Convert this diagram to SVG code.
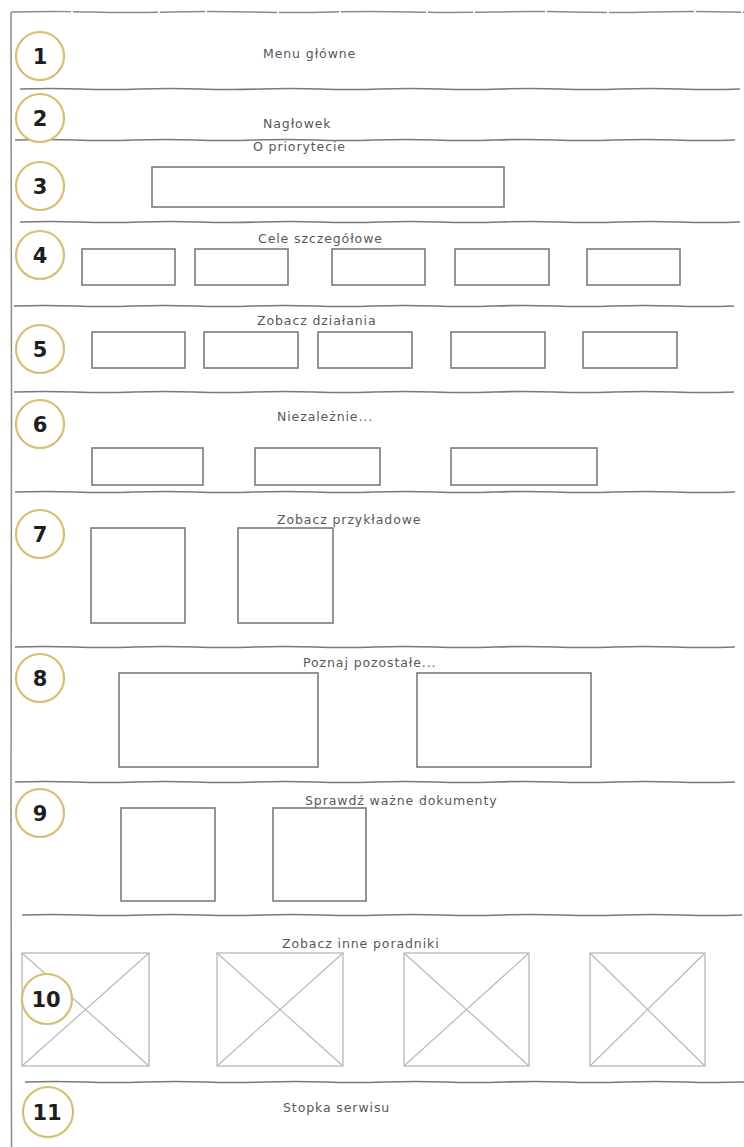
<svg xmlns="http://www.w3.org/2000/svg" xmlns:xlink="http://www.w3.org/1999/xlink" width="744" height="1147" viewBox="0 0 744 1147">
<style>
.bg{fill:#ffffff}
.frame{fill:none;stroke:#8a8a8a;stroke-width:1.5}
.div{fill:none;stroke:#7a7a7a;stroke-width:1.6}
.box{fill:#ffffff;stroke:#7a7a7a;stroke-width:1.6}
.img{fill:#ffffff;stroke:#b8b8b8;stroke-width:1.3}
.x{stroke:#b8b8b8;stroke-width:1.2}
.badge{fill:#ffffff;stroke:#d8bd72;stroke-width:2.2}
.num{font-family:"DejaVu Sans",Verdana,sans-serif;font-weight:bold;font-size:21px;fill:#1e1e1e;text-anchor:middle}
.lbl{font-family:"DejaVu Sans",Verdana,sans-serif;font-size:12.5px;fill:#585858;letter-spacing:0.9px}
</style>
<defs>
<path id="wave" d="M0,0 q30,-1 60,0 t60,0 t60,0 t60,0 t60,0 t60,0 t60,0 t60,0 t60,0 t60,0 t60,0 t60,0"/>
</defs>
<rect class="bg" x="0" y="0" width="744" height="1147"/>
<g id="frame">
<path class="frame" d="M11,12 q40,-1 80,0 t80,0 t80,0 t80,0 t80,0 t80,0 t80,0 t80,0 t80,0 t80,0" stroke-dasharray="60 2 85 2 45 2 70 2"/>
<path class="frame" d="M11,12 L11.5,400 L11,800 L11.5,1147"/>
</g>
<g id="dividers">
<use href="#wave" class="div" x="20" y="89"/>
<use href="#wave" class="div" x="15" y="140"/>
<use href="#wave" class="div" x="20" y="222"/>
<use href="#wave" class="div" x="14" y="306"/>
<use href="#wave" class="div" x="14" y="392"/>
<use href="#wave" class="div" x="15" y="492"/>
<use href="#wave" class="div" x="15" y="647"/>
<use href="#wave" class="div" x="15" y="782"/>
<use href="#wave" class="div" x="22" y="915"/>
<use href="#wave" class="div" x="25" y="1082"/>
</g>
<g id="s1">
<text class="lbl" x="263" y="58">Menu główne</text>
<circle class="badge" cx="40" cy="56" r="24"/>
<text class="num" x="40" y="64">1</text>
</g>
<g id="s2">
<text class="lbl" x="263" y="128">Nagłowek</text>
<circle class="badge" cx="40" cy="118" r="24"/>
<text class="num" x="40" y="126">2</text>
</g>
<g id="s3">
<text class="lbl" x="253" y="151">O priorytecie</text>
<rect class="box" x="152" y="167" width="352" height="40"/>
<circle class="badge" cx="40" cy="186" r="24"/>
<text class="num" x="40" y="194">3</text>
</g>
<g id="s4">
<text class="lbl" x="258" y="243">Cele szczegółowe</text>
<rect class="box" x="82" y="249" width="93" height="36"/>
<rect class="box" x="195" y="249" width="93" height="36"/>
<rect class="box" x="332" y="249" width="93" height="36"/>
<rect class="box" x="455" y="249" width="94" height="36"/>
<rect class="box" x="587" y="249" width="93" height="36"/>
<circle class="badge" cx="40" cy="255" r="24"/>
<text class="num" x="40" y="263">4</text>
</g>
<g id="s5">
<text class="lbl" x="257" y="325">Zobacz działania</text>
<rect class="box" x="92" y="332" width="93" height="36"/>
<rect class="box" x="204" y="332" width="94" height="36"/>
<rect class="box" x="318" y="332" width="94" height="36"/>
<rect class="box" x="451" y="332" width="94" height="36"/>
<rect class="box" x="583" y="332" width="94" height="36"/>
<circle class="badge" cx="40" cy="349" r="24"/>
<text class="num" x="40" y="357">5</text>
</g>
<g id="s6">
<text class="lbl" x="277" y="421">Niezależnie...</text>
<rect class="box" x="92" y="448" width="111" height="37"/>
<rect class="box" x="255" y="448" width="125" height="37"/>
<rect class="box" x="451" y="448" width="146" height="37"/>
<circle class="badge" cx="40" cy="424" r="24"/>
<text class="num" x="40" y="432">6</text>
</g>
<g id="s7">
<text class="lbl" x="277" y="524">Zobacz przykładowe</text>
<rect class="box" x="91" y="528" width="94" height="95"/>
<rect class="box" x="238" y="528" width="95" height="95"/>
<circle class="badge" cx="40" cy="534" r="24"/>
<text class="num" x="40" y="542">7</text>
</g>
<g id="s8">
<text class="lbl" x="303" y="667">Poznaj pozostałe...</text>
<rect class="box" x="119" y="673" width="199" height="94"/>
<rect class="box" x="417" y="673" width="174" height="94"/>
<circle class="badge" cx="40" cy="678" r="24"/>
<text class="num" x="40" y="686">8</text>
</g>
<g id="s9">
<text class="lbl" x="305" y="805">Sprawdź ważne dokumenty</text>
<rect class="box" x="121" y="808" width="94" height="93"/>
<rect class="box" x="273" y="808" width="93" height="93"/>
<circle class="badge" cx="40" cy="813" r="24"/>
<text class="num" x="40" y="821">9</text>
</g>
<g id="s10">
<text class="lbl" x="282" y="948">Zobacz inne poradniki</text>
<g>
<rect class="img" x="22" y="953" width="127" height="113"/>
<line class="x" x1="22" y1="953" x2="149" y2="1066"/>
<line class="x" x1="22" y1="1066" x2="149" y2="953"/>
</g>
<g>
<rect class="img" x="217" y="953" width="126" height="113"/>
<line class="x" x1="217" y1="953" x2="343" y2="1066"/>
<line class="x" x1="217" y1="1066" x2="343" y2="953"/>
</g>
<g>
<rect class="img" x="404" y="953" width="125" height="113"/>
<line class="x" x1="404" y1="953" x2="529" y2="1066"/>
<line class="x" x1="404" y1="1066" x2="529" y2="953"/>
</g>
<g>
<rect class="img" x="590" y="953" width="115" height="113"/>
<line class="x" x1="590" y1="953" x2="705" y2="1066"/>
<line class="x" x1="590" y1="1066" x2="705" y2="953"/>
</g>
<circle class="badge" cx="47" cy="999" r="25"/>
<text class="num" x="46" y="1007">10</text>
</g>
<g id="s11">
<text class="lbl" x="283" y="1112">Stopka serwisu</text>
<circle class="badge" cx="48" cy="1112" r="25"/>
<text class="num" x="47" y="1120">11</text>
</g>
</svg>
